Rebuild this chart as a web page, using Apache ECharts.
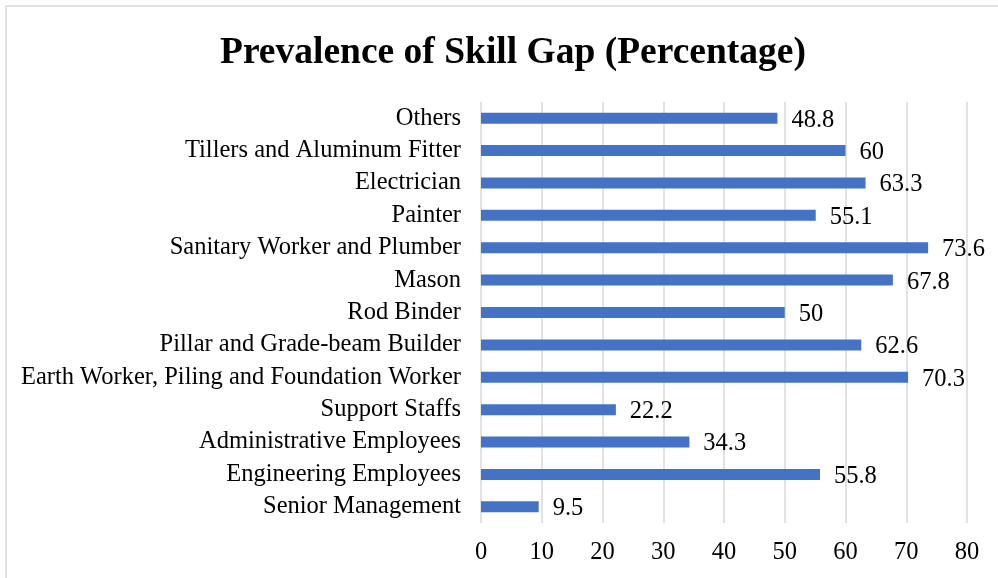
<!DOCTYPE html>
<html>
<head>
<meta charset="utf-8">
<script src="https://cdn.jsdelivr.net/npm/echarts@6/dist/echarts.min.js"></script>
<style>
  html, body { margin: 0; padding: 0; background: #fff; }
  #chart { width: 998px; height: 578px; }
</style>
</head>
<body>
<div id="chart"></div>
<script>
// Job categories, listed bottom to top along the vertical axis
const categories = [
  'Senior Management',
  'Engineering Employees',
  'Administrative Employees',
  'Support Staffs',
  'Earth Worker, Piling and Foundation Worker',
  'Pillar and Grade-beam Builder',
  'Rod Binder',
  'Mason',
  'Sanitary Worker and Plumber',
  'Painter',
  'Electrician',
  'Tillers and Aluminum Fitter',
  'Others'
];
// Prevalence of skill gap, percent
const skillGap = [9.5, 55.8, 34.3, 22.2, 70.3, 62.6, 50, 67.8, 73.6, 55.1, 63.3, 60, 48.8];
const xTicks = { min: 0, max: 80, interval: 10 };

const chart = echarts.init(document.getElementById('chart'));
const serif = '"Liberation Serif", "Times New Roman", serif';

chart.setOption({
  animation: false,
  textStyle: { fontFamily: serif },
  graphic: [{
    type: 'rect',
    shape: { x: 6, y: 6, width: 1000, height: 600 },
    style: { fill: 'none', stroke: '#d9d9d9', lineWidth: 1.5 },
    silent: true
  }],
  title: {
    text: 'Prevalence of Skill Gap (Percentage)',
    left: 215,
    top: 29,
    textStyle: { fontFamily: serif, fontWeight: 'bold', fontSize: 37.5, color: '#000' }
  },
  grid: { left: 481, right: 31, top: 102, bottom: 55 },
  xAxis: {
    type: 'value',
    min: xTicks.min,
    max: xTicks.max,
    interval: xTicks.interval,
    axisLine: { show: false },
    axisTick: { show: false },
    splitLine: { lineStyle: { color: '#d9d9d9', width: 1.5 } },
    axisLabel: { color: '#000', fontSize: 24.5, fontFamily: serif, margin: 17 }
  },
  yAxis: {
    type: 'category',
    data: categories,
    axisLine: { show: false },
    axisTick: { show: false },
    axisLabel: { color: '#000', fontSize: 24.5, fontFamily: serif, margin: 20, interval: 0 }
  },
  series: [{
    type: 'bar',
    data: skillGap,
    barWidth: 11,
    itemStyle: { color: '#4472C4' },
    label: {
      show: true,
      position: 'right',
      distance: 14,
      offset: [0, 2],
      color: '#000',
      fontSize: 24.5,
      fontFamily: serif
    }
  }]
});
</script>
</body>
</html>
